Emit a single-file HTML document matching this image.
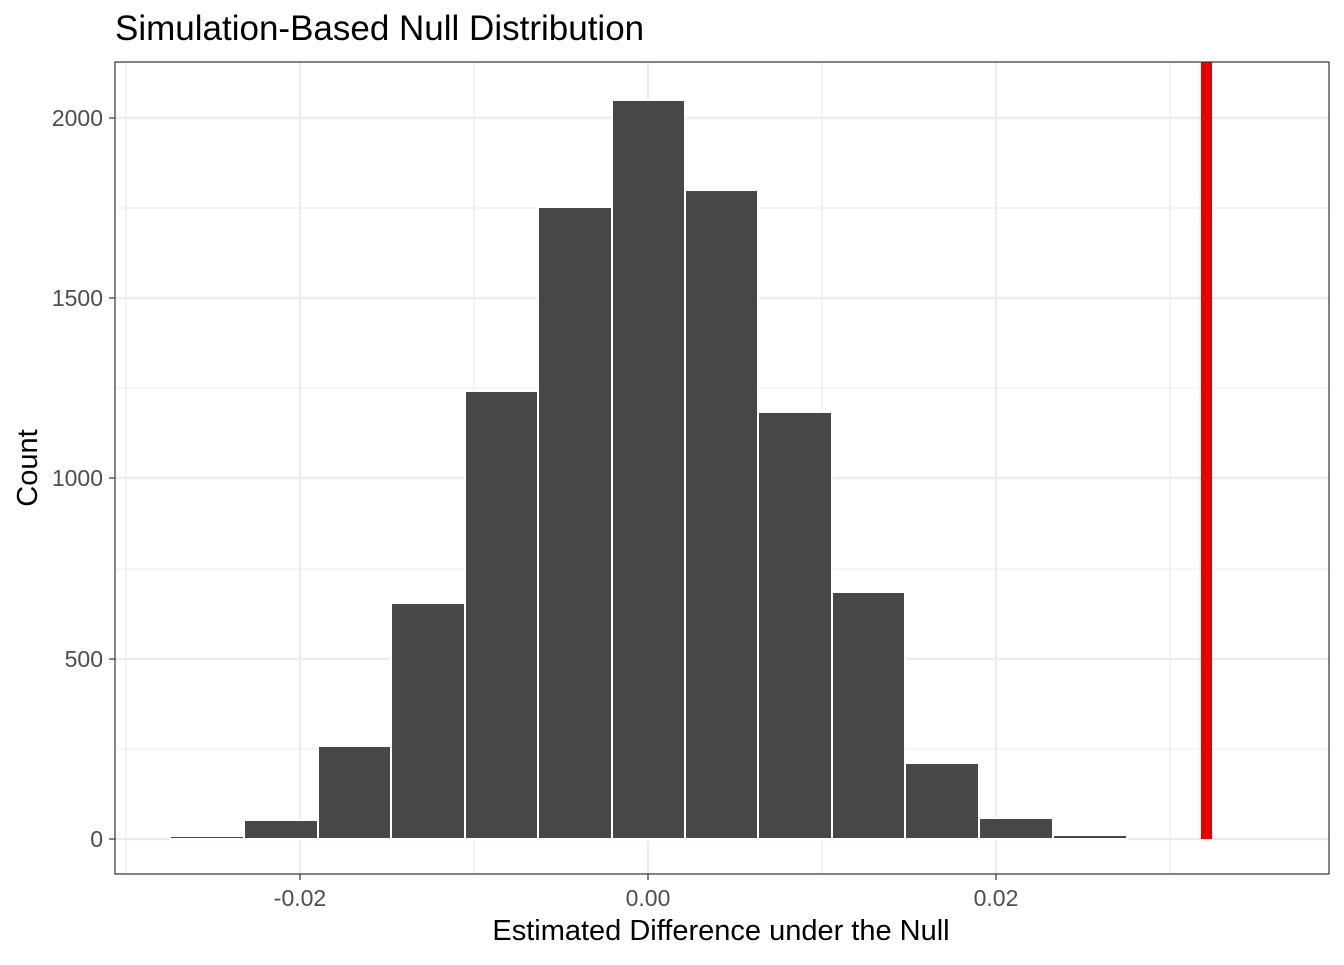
<!DOCTYPE html>
<html><head><style>body{margin:0;background:#fff}</style></head><body>
<svg width="1344" height="960" xmlns="http://www.w3.org/2000/svg" font-family="Liberation Sans, Arial, sans-serif">
<rect width="1344" height="960" fill="#fff"/>
<g stroke="#ebebeb" stroke-width="1.1">
<line x1="115" x2="1329" y1="749" y2="749"/><line x1="115" x2="1329" y1="569" y2="569"/><line x1="115" x2="1329" y1="388" y2="388"/><line x1="115" x2="1329" y1="208" y2="208"/>
<line x1="126" x2="126" y1="62" y2="874"/><line x1="474" x2="474" y1="62" y2="874"/><line x1="822" x2="822" y1="62" y2="874"/><line x1="1170" x2="1170" y1="62" y2="874"/>
</g>
<g stroke="#ebebeb" stroke-width="2.2">
<line x1="115" x2="1329" y1="839" y2="839"/><line x1="115" x2="1329" y1="659" y2="659"/><line x1="115" x2="1329" y1="478" y2="478"/><line x1="115" x2="1329" y1="298" y2="298"/><line x1="115" x2="1329" y1="118" y2="118"/>
<line x1="300" x2="300" y1="62" y2="874"/><line x1="648" x2="648" y1="62" y2="874"/><line x1="996" x2="996" y1="62" y2="874"/>
</g>
<g fill="#474747" stroke="#fff" stroke-width="2">
<rect x="170" y="836" width="74" height="3"/>
<rect x="244" y="820" width="74" height="19"/>
<rect x="318" y="746" width="73" height="93"/>
<rect x="391" y="603" width="74" height="236"/>
<rect x="465" y="391" width="73" height="448"/>
<rect x="538" y="207" width="74" height="632"/>
<rect x="612" y="100" width="73" height="739"/>
<rect x="685" y="190" width="73" height="649"/>
<rect x="758" y="412" width="74" height="427"/>
<rect x="832" y="592" width="73" height="247"/>
<rect x="905" y="763" width="74" height="76"/>
<rect x="979" y="818" width="74" height="21"/>
<rect x="1053" y="835" width="74" height="4"/>
</g>
<rect x="1201" y="62" width="11" height="777" fill="#e80000"/>
<rect x="115" y="62" width="1214" height="812" fill="none" stroke="#333" stroke-width="1.2"/>
<g stroke="#333" stroke-width="1.2">
<line x1="109" x2="115" y1="839" y2="839"/><line x1="109" x2="115" y1="659" y2="659"/><line x1="109" x2="115" y1="478" y2="478"/><line x1="109" x2="115" y1="298" y2="298"/><line x1="109" x2="115" y1="118" y2="118"/>
<line x1="300" x2="300" y1="874" y2="880"/><line x1="648" x2="648" y1="874" y2="880"/><line x1="996" x2="996" y1="874" y2="880"/>
</g>
<g fill="#4d4d4d" font-size="23" text-anchor="end">
<text x="103" y="847">0</text><text x="103" y="667">500</text><text x="103" y="486">1000</text><text x="103" y="306">1500</text><text x="103" y="126">2000</text>
</g>
<g fill="#4d4d4d" font-size="23" text-anchor="middle">
<text x="300" y="906">-0.02</text><text x="648" y="906">0.00</text><text x="996" y="906">0.02</text>
</g>
<text x="721" y="940" font-size="29" text-anchor="middle" fill="#000">Estimated Difference under the Null</text>
<text transform="translate(37,468) rotate(-90)" font-size="29" text-anchor="middle" fill="#000">Count</text>
<text x="115" y="40" font-size="35" fill="#000">Simulation-Based Null Distribution</text>
</svg>
</body></html>
